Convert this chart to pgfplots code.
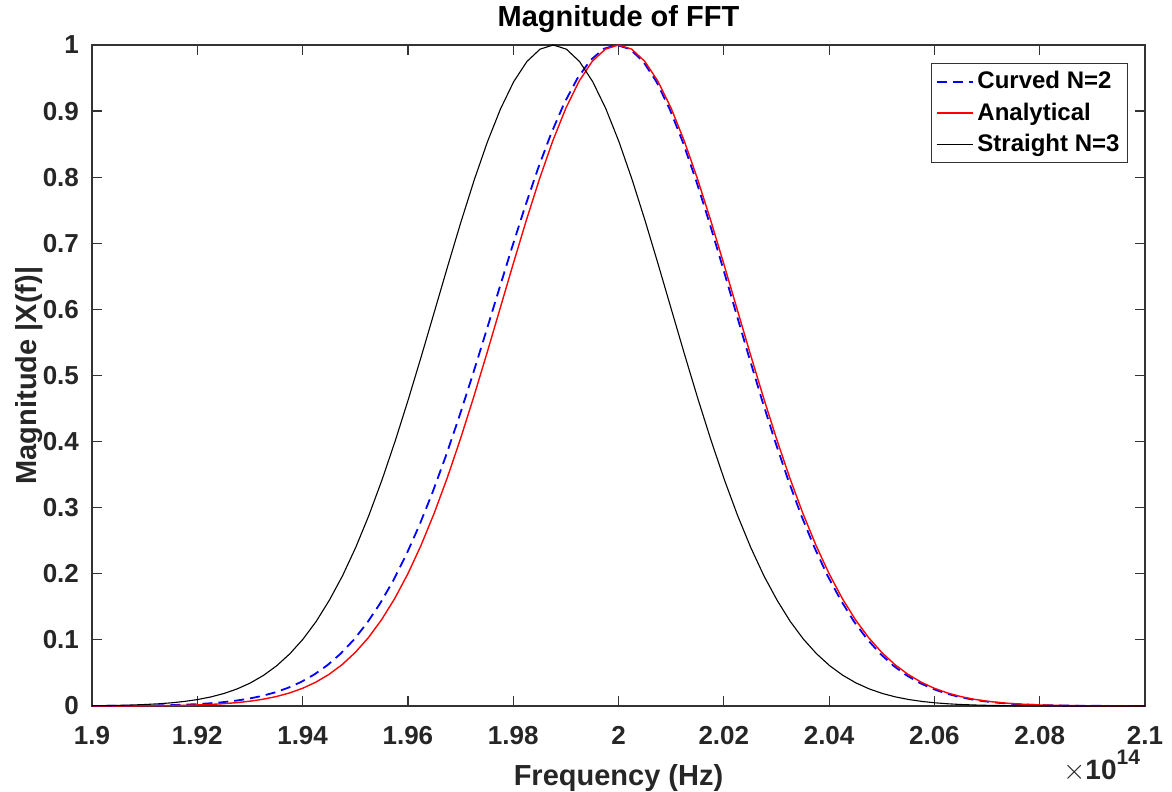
\documentclass[border=0pt]{standalone}
\usepackage{fontspec}
\setmainfont{Liberation Sans}
\usepackage{pgfplots}
\pgfplotsset{compat=1.18}
\begin{document}
\begin{tikzpicture}
\begin{axis}[
  scale only axis,
  width=526.5pt, height=330.5pt,
  xmin=1.9, xmax=2.1, ymin=0, ymax=1,
  xtick={1.9,1.92,1.94,1.96,1.98,2,2.02,2.04,2.06,2.08,2.1},
  xticklabels={1.9,1.92,1.94,1.96,1.98,2,2.02,2.04,2.06,2.08,2.1},
  ytick={0,0.1,0.2,0.3,0.4,0.5,0.6,0.7,0.8,0.9,1},
  yticklabels={0,0.1,0.2,0.3,0.4,0.5,0.6,0.7,0.8,0.9,1},
  tick align=inside,
  major tick length=5pt,
  axis line style={draw=black!80, line width=0.75pt},
  every tick/.style={draw=black!80, line width=0.6pt},
  ticklabel style={font=\fontsize{13}{15}\selectfont\bfseries, text=black!85},
  xticklabel style={yshift=-6.5pt},
  yticklabel style={xshift=-3pt},
  title={\fontsize{14.5}{17}\selectfont\bfseries Magnitude of FFT},
  title style={yshift=-3.5pt},
  xlabel={\fontsize{14.5}{17}\selectfont\bfseries Frequency (Hz)},
  ylabel={\fontsize{14.5}{17}\selectfont\bfseries Magnitude |X(f)|},
  xlabel style={yshift=-3pt},
  ylabel style={yshift=-7pt},
  label style={text=black!85},
  legend style={at={(1,1)}, anchor=north east, xshift=-8.5pt, yshift=-9pt,
    draw=black!80, line width=0.5pt, font=\fontsize{12}{14}\selectfont\bfseries,
    inner xsep=2pt, inner ysep=2pt, row sep=1.5pt},
  legend cell align=left,
  legend image code/.code={\draw[#1] (0pt,0pt) -- (18pt,0pt);},
  clip=true,
]
\addplot[blue, line width=0.9pt, dash pattern=on 5pt off 3pt] coordinates {
(1.8997,0.00010)(1.9022,0.00016)(1.9047,0.00025)(1.9072,0.00038)(1.9097,0.00058)
(1.9122,0.00087)(1.9147,0.00129)(1.9172,0.00190)(1.9197,0.00276)(1.9222,0.00396)
(1.9247,0.00563)(1.9272,0.00790)(1.9297,0.01097)(1.9322,0.01505)(1.9347,0.02042)
(1.9372,0.02739)(1.9397,0.03631)(1.9422,0.04760)(1.9447,0.06167)(1.9472,0.07899)
(1.9497,0.10001)(1.9522,0.12518)(1.9547,0.15489)(1.9572,0.18947)(1.9597,0.22910)
(1.9622,0.27386)(1.9647,0.32359)(1.9672,0.37803)(1.9697,0.43654)(1.9722,0.49832)
(1.9747,0.56236)(1.9772,0.62733)(1.9797,0.69183)(1.9822,0.75422)(1.9847,0.81285)
(1.9872,0.86597)(1.9897,0.91202)(1.9922,0.94951)(1.9947,0.97724)(1.9972,0.99426)
(1.9997,1.00000)
(2.0022,0.99368)(2.0047,0.97496)(2.0072,0.94453)(2.0097,0.90352)(2.0122,0.85341)
(2.0147,0.79592)(2.0172,0.73293)(2.0197,0.66644)(2.0222,0.59834)(2.0247,0.53042)
(2.0272,0.46430)(2.0297,0.40129)(2.0322,0.34246)(2.0347,0.28857)(2.0372,0.24009)
(2.0397,0.19723)(2.0422,0.16030)(2.0447,0.12816)(2.0472,0.10135)(2.0497,0.07916)
(2.0522,0.06102)(2.0547,0.04646)(2.0572,0.03493)(2.0597,0.02593)(2.0622,0.01901)
(2.0647,0.01376)(2.0672,0.00983)(2.0697,0.00694)(2.0722,0.00483)(2.0747,0.00332)
(2.0772,0.00226)(2.0797,0.00151)(2.0822,0.00100)(2.0847,0.00066)(2.0872,0.00042)
(2.0897,0.00027)(2.0922,0.00017)(2.0947,0.00011)(2.0972,0.00006)(2.1000,0.00004)
};
\addlegendentry{Curved N=2}
\addplot[red, line width=0.7pt] coordinates {
(1.9000,0.00004)(1.9025,0.00007)(1.9050,0.00011)(1.9075,0.00018)(1.9100,0.00029)
(1.9125,0.00045)(1.9150,0.00070)(1.9175,0.00107)(1.9200,0.00160)(1.9225,0.00239)
(1.9250,0.00350)(1.9275,0.00507)(1.9300,0.00725)(1.9325,0.01024)(1.9350,0.01429)
(1.9375,0.01969)(1.9400,0.02679)(1.9425,0.03600)(1.9450,0.04776)(1.9475,0.06257)
(1.9500,0.08097)(1.9525,0.10346)(1.9550,0.13054)(1.9575,0.16265)(1.9600,0.20015)
(1.9625,0.24318)(1.9650,0.29180)(1.9675,0.34576)(1.9700,0.40458)(1.9725,0.46749)
(1.9750,0.53345)(1.9775,0.60110)(1.9800,0.66887)(1.9825,0.73497)(1.9850,0.79755)
(1.9875,0.85462)(1.9900,0.90434)(1.9925,0.94501)(1.9950,0.97518)(1.9975,0.99374)
(2.0000,1.00000)
(2.0025,0.99374)(2.0050,0.97518)(2.0075,0.94501)(2.0100,0.90434)(2.0125,0.85462)
(2.0150,0.79755)(2.0175,0.73497)(2.0200,0.66887)(2.0225,0.60110)(2.0250,0.53345)
(2.0275,0.46749)(2.0300,0.40458)(2.0325,0.34576)(2.0350,0.29180)(2.0375,0.24318)
(2.0400,0.20015)(2.0425,0.16265)(2.0450,0.13054)(2.0475,0.10346)(2.0500,0.08097)
(2.0525,0.06257)(2.0550,0.04776)(2.0575,0.03600)(2.0600,0.02679)(2.0625,0.01969)
(2.0650,0.01429)(2.0675,0.01024)(2.0700,0.00725)(2.0725,0.00507)(2.0750,0.00350)
(2.0775,0.00239)(2.0800,0.00160)(2.0825,0.00107)(2.0850,0.00070)(2.0875,0.00045)
(2.0900,0.00029)(2.0925,0.00018)(2.0950,0.00011)(2.0975,0.00007)(2.1000,0.00004)
};
\addlegendentry{Analytical}
\addplot[black, line width=0.55pt] coordinates {
(1.9000,0.00042)(1.9026,0.00066)(1.9051,0.00100)(1.9076,0.00151)(1.9101,0.00226)
(1.9126,0.00332)(1.9151,0.00483)(1.9176,0.00694)(1.9201,0.00983)(1.9226,0.01376)
(1.9251,0.01901)(1.9276,0.02593)(1.9301,0.03493)(1.9326,0.04646)(1.9351,0.06102)
(1.9376,0.07916)(1.9401,0.10135)(1.9426,0.12816)(1.9451,0.16030)(1.9476,0.19723)
(1.9501,0.24009)(1.9526,0.28857)(1.9551,0.34246)(1.9576,0.40129)(1.9601,0.46430)
(1.9626,0.53042)(1.9651,0.59834)(1.9676,0.66644)(1.9701,0.73293)(1.9726,0.79592)
(1.9751,0.85341)(1.9776,0.90352)(1.9801,0.94453)(1.9826,0.97496)(1.9851,0.99368)
(1.9876,1.00000)
(1.9901,0.99368)(1.9926,0.97496)(1.9951,0.94453)(1.9976,0.90352)(2.0001,0.85341)
(2.0026,0.79592)(2.0051,0.73293)(2.0076,0.66644)(2.0101,0.59834)(2.0126,0.53042)
(2.0151,0.46430)(2.0176,0.40129)(2.0201,0.34246)(2.0226,0.28857)(2.0251,0.24009)
(2.0276,0.19723)(2.0301,0.16030)(2.0326,0.12816)(2.0351,0.10135)(2.0376,0.07916)
(2.0401,0.06102)(2.0426,0.04646)(2.0451,0.03493)(2.0476,0.02593)(2.0501,0.01901)
(2.0526,0.01376)(2.0551,0.00983)(2.0576,0.00694)(2.0601,0.00483)(2.0626,0.00332)
(2.0651,0.00226)(2.0676,0.00151)(2.0701,0.00100)(2.0726,0.00066)(2.0751,0.00042)
(2.0776,0.00027)(2.0801,0.00017)(2.0826,0.00011)(2.0851,0.00006)(2.0876,0.00004)
(2.1000,0.00000)
};
\addlegendentry{Straight N=3}
\end{axis}
\node[anchor=base east, text=black!85, font=\fontsize{14}{16}\selectfont] at ([shift={(1pt,-37pt)}]current axis.south east) {$\times$\textbf{10}\raisebox{0.55em}{\fontsize{10.5}{12}\selectfont\bfseries 14}};
\pgfresetboundingbox
\path[use as bounding box] ([shift={(-46pt,-43pt)}]current axis.south west) rectangle ([shift={(13.5pt,22.5pt)}]current axis.north east);
\end{tikzpicture}
\end{document}
